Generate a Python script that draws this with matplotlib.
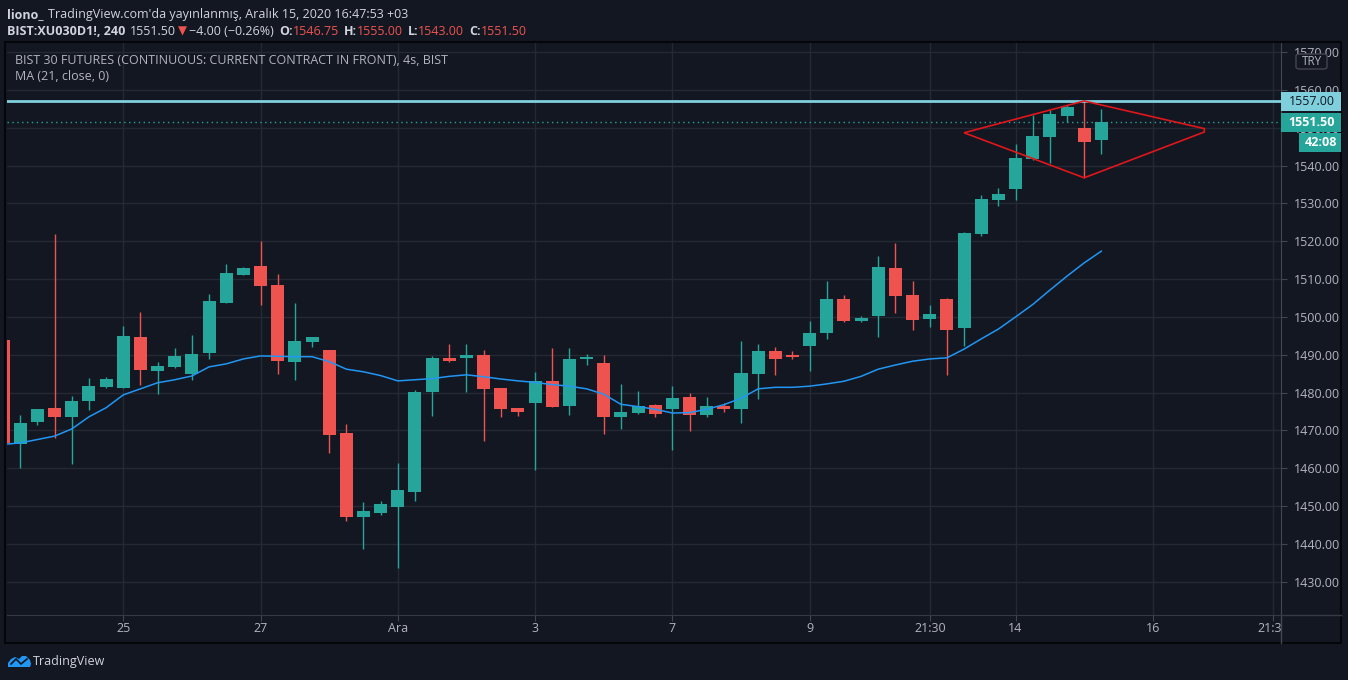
import numpy as np
import matplotlib
matplotlib.use('Agg')
import matplotlib.pyplot as plt
from matplotlib.patches import Rectangle, FancyBboxPatch, Polygon
from matplotlib.lines import Line2D
from matplotlib.transforms import Bbox, TransformedBbox, blended_transform_factory

W, H = 1348, 680
BG = '#131722'
GRID = '#252934'
UP = '#26a69a'
DN = '#ef5350'
TXT = '#b2b5be'
HDR = '#d1d4dc'

#%% data (4h candles)
opens = [1494.0, 1466.5, 1472.3, 1476.0, 1473.6, 1477.8, 1481.5, 1481.2, 1494.7, 1485.7,
         1486.8, 1485.0, 1490.5, 1503.7, 1511.1, 1513.5, 1508.5, 1488.1, 1493.4, 1491.3,
         1469.3, 1447.1, 1448.2, 1449.8, 1453.7, 1480.2, 1489.2, 1489.2, 1490.0, 1481.2,
         1476.0, 1477.3, 1483.1, 1476.5, 1489.0, 1487.8, 1473.6, 1474.6, 1476.7, 1475.7,
         1478.8, 1474.1, 1476.5, 1475.7, 1485.0, 1491.0, 1490.0, 1492.4, 1495.8, 1504.8,
         1499.0, 1500.2, 1512.9, 1505.8, 1499.4, 1504.8, 1497.1, 1521.9, 1530.9, 1533.8,
         1541.7, 1547.6, 1553.1, 1550.0, 1546.75]
highs = [1495.0, 1474.0, 1475.7, 1522.0, 1479.0, 1483.9, 1484.1, 1497.6, 1501.4, 1488.1,
         1491.8, 1495.2, 1506.1, 1514.0, 1513.2, 1520.1, 1511.4, 1503.7, 1494.8, 1491.3,
         1471.7, 1451.1, 1451.4, 1461.4, 1480.7, 1489.7, 1492.8, 1492.8, 1491.3, 1481.2,
         1476.0, 1485.5, 1491.8, 1491.8, 1490.2, 1490.0, 1482.3, 1480.4, 1477.0, 1481.8,
         1479.9, 1478.8, 1477.3, 1493.7, 1492.8, 1492.1, 1491.0, 1499.0, 1509.6, 1505.8,
         1500.2, 1516.1, 1519.6, 1509.5, 1503.2, 1505.0, 1522.5, 1532.3, 1534.1, 1545.7,
         1553.4, 1554.7, 1556.0, 1557.1, 1555.0]
lows = [1466.0, 1460.0, 1471.4, 1468.0, 1461.0, 1475.4, 1481.2, 1481.2, 1482.0, 1479.7,
        1486.5, 1483.3, 1488.9, 1503.7, 1511.1, 1503.2, 1485.0, 1483.3, 1492.1, 1464.1,
        1446.0, 1438.7, 1447.6, 1433.6, 1451.4, 1473.8, 1488.1, 1480.2, 1467.2, 1473.6,
        1473.8, 1459.6, 1476.2, 1474.1, 1487.3, 1469.1, 1470.4, 1474.4, 1473.6, 1464.9,
        1469.9, 1473.6, 1474.9, 1472.0, 1478.3, 1484.7, 1489.0, 1485.8, 1494.2, 1498.7,
        1498.7, 1494.7, 1501.0, 1496.6, 1497.4, 1484.7, 1492.3, 1521.4, 1529.3, 1530.9,
        1541.5, 1540.7, 1551.6, 1536.8, 1543.0]
closes = [1466.7, 1472.0, 1475.7, 1473.6, 1477.8, 1481.8, 1483.6, 1495.0, 1486.0, 1487.1,
          1489.8, 1490.3, 1504.2, 1511.6, 1513.0, 1508.2, 1488.4, 1493.7, 1494.7, 1468.8,
          1447.1, 1448.7, 1450.6, 1454.3, 1480.2, 1489.2, 1488.4, 1490.0, 1481.0, 1475.7,
          1474.9, 1483.1, 1476.2, 1489.0, 1489.4, 1473.6, 1474.9, 1476.5, 1474.4, 1478.6,
          1474.1, 1476.5, 1475.7, 1485.3, 1491.0, 1489.0, 1489.4, 1495.8, 1504.8, 1499.0,
          1499.7, 1513.2, 1505.5, 1499.2, 1500.7, 1496.6, 1522.2, 1531.2, 1532.5, 1542.0,
          1547.8, 1553.7, 1555.5, 1546.3, 1551.5]
ma21 = [1466.3, 1466.7, 1467.6, 1468.5, 1470.4, 1473.6, 1476.0, 1479.4, 1481.0, 1482.6,
        1483.4, 1484.4, 1486.8, 1487.6, 1488.9, 1489.7, 1489.6, 1489.5, 1489.5, 1488.2,
        1486.2, 1485.5, 1484.5, 1483.1, 1483.4, 1483.7, 1484.3, 1484.7, 1484.2, 1483.6,
        1483.1, 1482.7, 1482.1, 1481.7, 1481.0, 1479.6, 1476.9, 1476.3, 1475.6, 1474.6,
        1474.7, 1475.6, 1476.8, 1478.5, 1481.0, 1481.4, 1481.4, 1481.7, 1482.3, 1483.0,
        1484.3, 1486.2, 1487.3, 1488.3, 1488.9, 1489.2, 1491.5, 1494.2, 1496.8, 1500.0,
        1503.3, 1507.1, 1510.8, 1514.3, 1517.4]

tick_idx = [7, 15, 23, 31, 39, 47, 54, 59, 67, 74]
tick_lbl = ['25', '27', 'Ara', '3', '7', '9', '21:30', '14', '16', '21:30']
price_ticks = np.arange(1430, 1571, 10)

resistance = 1557.00
last_close = 1551.50
timer_level = 1546.2
diamond_x = [56, 63, 70, 70, 63]
diamond_y = [1548.7, 1557.1, 1549.8, 1548.9, 1536.8]

#%%
def fx(p): return p / W
def fy(p): return 1 - p / H

plt.rcParams['font.family'] = ['Open Sans', 'DejaVu Sans']

fig = plt.figure(figsize=(W / 100, H / 100), dpi=100, facecolor=BG)
ax = fig.add_axes([fx(7), fy(615), fx(1281 - 7), (615 - 42) / H], facecolor=BG)

idx = np.arange(len(opens))
o = np.array(opens); c = np.array(closes)
cols = [UP if cc >= oo else DN for oo, cc in zip(o, c)]

ax.vlines(idx, lows, highs, colors=cols, lw=1, zorder=3)
body_h = np.maximum(np.abs(c - o), 0.3)
ax.bar(idx, body_h, bottom=np.minimum(o, c), width=0.76, color=cols, lw=0, zorder=4)

ax.plot(idx, ma21, color='#2196f3', lw=1.1, zorder=5)

ax.axhline(resistance, color='#80cfdd', lw=2, zorder=6)
ax.axhline(last_close, color=UP, lw=1, ls=(0, (1, 2.5)), zorder=6)

ax.add_patch(Polygon(list(zip(diamond_x, diamond_y)), closed=True, fill=False,
                     ec='#e0161b', lw=1.2, zorder=7))

ax.set_xlim(0.224, 74.47)
ax.set_ylim(1421.2, 1572.7)
ax.set_xticks(tick_idx)
ax.set_yticks(price_ticks)
ax.grid(color=GRID, lw=1, zorder=0)
ax.set_axisbelow(True)

ax.yaxis.tick_right()
ax.set_yticklabels([f'{v:.2f}' for v in price_ticks])
ax.tick_params(axis='y', length=4, color='#434651', labelcolor=TXT, labelsize=9, pad=5)
ax.tick_params(axis='x', length=4, color='#434651', labelbottom=False)
for s in ['top', 'left']:
    ax.spines[s].set_visible(False)
ax.spines['right'].set_color('#434651')
ax.spines['bottom'].set_color('#363a45')

# x labels, clipped at price scale like in TradingView
clip = TransformedBbox(Bbox([[0, 0], [fx(1281), 1]]), fig.transFigure)
xl_tr = blended_transform_factory(ax.transData, fig.transFigure)
for t, l in zip(tick_idx, tick_lbl):
    tt = ax.text(t, fy(629), l, transform=xl_tr, ha='center', va='center',
                 color=TXT, fontsize=9, clip_on=True)
    tt.set_clip_box(clip)

# price label boxes
ytr = blended_transform_factory(fig.transFigure, ax.transData)
bh = 18.7 / 3.783
for lev, col, tc, txt, x0 in [(resistance, '#80cfdd', '#131722', '1557.00', 1281),
                              (last_close, UP, 'white', '1551.50', 1281),
                              (timer_level, UP, 'white', '42:08', 1299)]:
    fig.add_artist(Rectangle((fx(x0), lev - bh / 2), fx(1341 - x0), bh, transform=ytr,
                             fc=col, ec='none', zorder=10))
    fig.text(fx((x0 + 1341) / 2 + 1), lev, txt, transform=ytr, ha='center', va='center',
             color=tc, fontsize=9, fontweight='bold' if tc == 'white' else 'normal', zorder=11)

fig.add_artist(FancyBboxPatch((fx(1296), fy(69)), fx(31), 15 / H,
                              boxstyle='round,pad=0,rounding_size=0.003',
                              fc=BG, ec='#434651', lw=1, zorder=10))
fig.text(fx(1311.5), fy(61.5), 'TRY', ha='center', va='center', color=TXT, fontsize=8.5, zorder=11)

# chart frame, axis separators
fig.add_artist(Rectangle((fx(5), fy(643)), fx(1336), 601 / H, fill=False, ec='#05060a', lw=1.5))
fig.add_artist(Line2D([fx(1281), fx(1281)], [fy(615), fy(643)], color='#434651', lw=1))
fig.add_artist(Line2D([fx(1281), fx(1341)], [fy(615), fy(615)], color='#363a45', lw=1))

# legend texts inside the chart
fig.text(fx(15), fy(60), 'BIST 30 FUTURES (CONTINUOUS: CURRENT CONTRACT IN FRONT), 4s, BIST',
         color=TXT, fontsize=9, va='center')
fig.text(fx(15), fy(77), 'MA (21, close, 0)', color=TXT, fontsize=9, va='center')

# header lines, chained
def chain(parts, x0, y0):
    prev = None
    for txt, col, wt, gap in parts:
        kw = dict(color=col, fontsize=9, fontweight=wt, va='bottom', ha='left')
        if txt == '▼':
            kw['family'] = ['DejaVu Sans']
            kw['fontsize'] = 8.5
        if prev is None:
            prev = fig.text(fx(x0), fy(y0), txt, **kw)
        else:
            prev = fig.add_artist(plt.Annotation(txt, xy=(1, 0), xycoords=prev,
                                                 xytext=(gap, 0), textcoords='offset points', **kw))

chain([('liono_', HDR, 'bold', 0),
       ("TradingView.com'da yayınlanmış, Aralık 15, 2020 16:47:53 +03", HDR, 'normal', 3)], 7, 21)
chain([('BIST:XU030D1!, 240', HDR, 'bold', 0),
       ('1551.50', HDR, 'normal', 3.5),
       ('▼', DN, 'normal', 1),
       ('−4.00 (−0.26%)', HDR, 'normal', 2),
       ('O:', HDR, 'bold', 3.5), ('1546.75', DN, 'normal', 0),
       ('H:', HDR, 'bold', 3.5), ('1555.00', DN, 'normal', 0),
       ('L:', HDR, 'bold', 3.5), ('1543.00', DN, 'normal', 0),
       ('C:', HDR, 'bold', 3.5), ('1551.50', DN, 'normal', 0)], 7, 38)

# TradingView logo
cloud = [(8, 667), (8, 663), (11, 659), (15, 657), (19, 659), (22, 656), (26, 656),
         (30, 660), (31, 664), (30, 667)]
fig.add_artist(Polygon([(fx(a), fy(b)) for a, b in cloud], closed=True, fc='#2196f3',
                       ec='none', transform=fig.transFigure))
fig.add_artist(Line2D([fx(11), fx(16), fx(21), fx(27)], [fy(664), fy(659), fy(664), fy(659)],
                      color=BG, lw=1.2))
fig.text(fx(33), fy(661), 'TradingView', color='#d1d4dc', fontsize=9, va='center')

fig.savefig('out.png', dpi=100, facecolor=BG)
